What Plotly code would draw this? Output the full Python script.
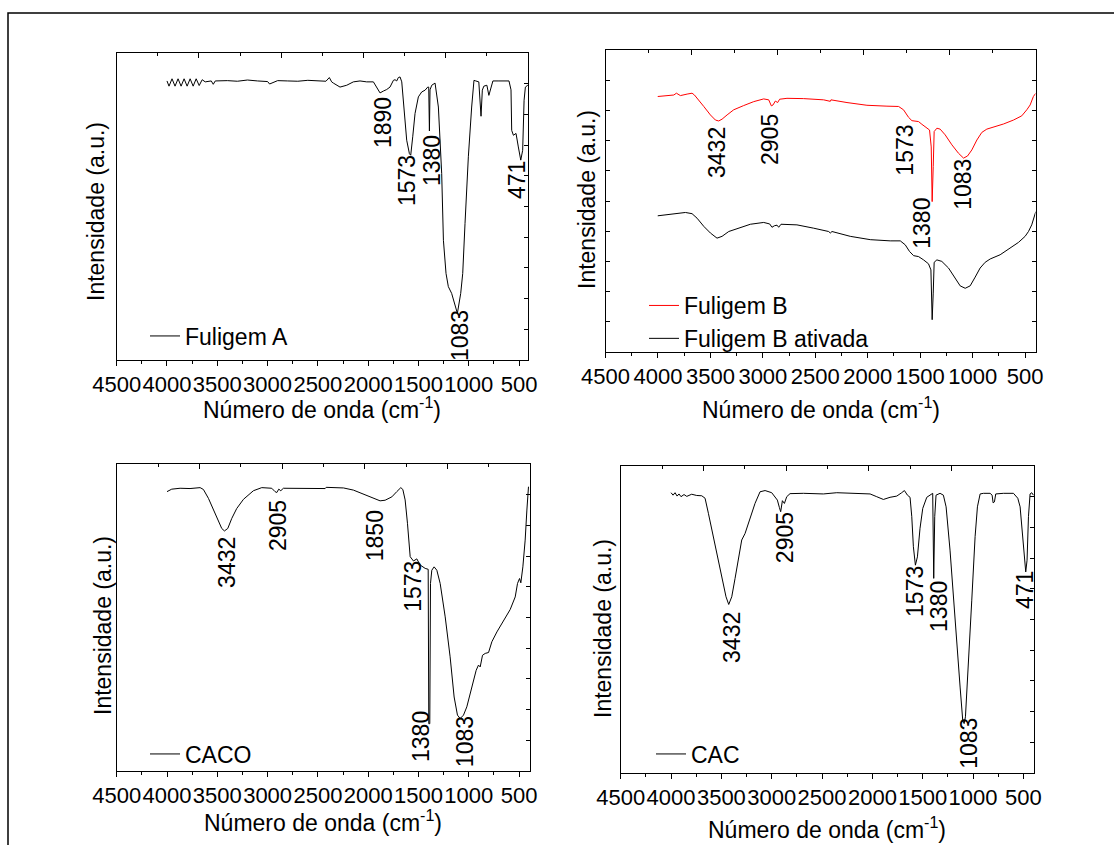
import plotly.graph_objects as go

W, H = 1114, 845
FONT = "Liberation Sans, Arial, sans-serif"
FS = 23
FS_TICK = 22

# ---------------- data (wavenumber cm-1, intensity a.u.) ----------------
wn_A = [4000, 3980, 3950, 3920, 3890, 3860, 3830, 3800, 3770, 3740, 3710, 3680, 3650, 3620, 3560, 3540, 3520,
        3400, 3300, 3200, 3100, 3000, 2980, 2900, 2800, 2700, 2600, 2500, 2420, 2386, 2363, 2346, 2280, 2213,
        2147, 2081, 2015, 1948, 1898, 1882, 1849, 1816, 1783, 1749, 1733, 1716, 1700, 1683, 1666, 1643, 1617,
        1590, 1577, 1557, 1534, 1501, 1468, 1434, 1408, 1398, 1391, 1385, 1368, 1335, 1302, 1269, 1252, 1226,
        1203, 1170, 1146, 1113, 1080, 1060, 1037, 1004, 971, 948, 930, 900, 878, 865, 850, 820, 800, 780, 760,
        700, 650, 600, 580, 573, 556, 530, 507, 483, 464, 450, 437, 414, 397]
int_A = [90.9, 89.2, 91.6, 89.2, 91.6, 89.2, 91.6, 89.2, 91.6, 89.2, 91.6, 89.4, 91.3, 90.6, 90.9, 89.8, 90.9,
         91.0, 90.8, 91.2, 90.9, 90.7, 89.9, 91.0, 90.9, 90.8, 91.1, 90.9, 90.8, 92.0, 90.6, 90.2, 88.9, 89.5,
         90.6, 90.9, 90.6, 90.6, 87.9, 87.0, 87.6, 88.1, 88.9, 91.1, 91.3, 90.9, 92.0, 92.2, 90.6, 82.4, 71.6,
         67.2, 66.7, 72.7, 80.3, 85.7, 87.3, 87.9, 88.9, 88.9, 74.6, 88.0, 89.5, 90.2, 82.4, 60.7, 39.0, 28.2,
         23.9, 21.7, 19.0, 15.2, 21.7, 28.2, 44.5, 66.2, 82.4, 91.1, 90.9, 90.6, 79.4, 87.9, 89.2, 89.5, 86.2,
         88.4, 90.9, 90.9, 90.9, 90.9, 88.0, 74.8, 73.2, 73.8, 69.4, 65.1, 68.3, 84.6, 88.9, 89.5, 88.9]

wn_B = [4002, 3913, 3849, 3824, 3786, 3722, 3675, 3652, 3611, 3563, 3500, 3452, 3421, 3389, 3341, 3278, 3183,
        3087, 2992, 2944, 2919, 2903, 2881, 2859, 2840, 2770, 2611, 2421, 2357, 2351, 2198, 2008, 1817, 1706,
        1659, 1611, 1579, 1548, 1516, 1484, 1443, 1411, 1395, 1386, 1376, 1367, 1341, 1310, 1262, 1198, 1135,
        1087, 1049, 1008, 960, 913, 865, 802, 706, 611, 532, 484, 452, 421, 398]
int_B = [84.6, 84.8, 85.1, 85.7, 84.9, 85.4, 85.7, 85.1, 83.5, 81.3, 78.5, 76.8, 76.5, 77.1, 78.5, 80.2, 81.6,
         82.9, 83.8, 83.5, 81.5, 81.8, 83.1, 82.6, 83.7, 84.0, 83.9, 83.5, 83.0, 83.5, 82.6, 81.7, 81.4, 81.3,
         80.2, 77.7, 76.6, 76.5, 76.3, 75.4, 74.4, 73.5, 67.9, 49.8, 61.4, 73.0, 74.1, 73.8, 71.9, 68.6, 65.8,
         64.2, 64.9, 66.9, 70.2, 72.7, 73.8, 74.4, 75.5, 76.8, 78.2, 80.2, 81.8, 84.6, 85.7]

wn_Bat = [4002, 3913, 3817, 3738, 3675, 3627, 3563, 3500, 3437, 3389, 3325, 3246, 3119, 2992, 2935, 2913, 2890,
          2865, 2849, 2827, 2675, 2516, 2373, 2357, 2341, 2167, 1976, 1786, 1690, 1643, 1602, 1563, 1516, 1468,
          1421, 1398, 1386, 1376, 1367, 1341, 1294, 1230, 1167, 1119, 1071, 1024, 976, 929, 881, 833, 738, 643,
          563, 500, 468, 437, 414, 398]
int_Bat = [45.1, 45.4, 45.8, 46.2, 45.8, 44.3, 41.6, 39.4, 37.7, 38.3, 39.9, 40.9, 42.3, 42.9, 42.4, 41.3, 41.8,
           42.0, 41.3, 42.3, 42.1, 41.0, 39.9, 39.4, 39.9, 38.3, 37.2, 36.8, 36.8, 35.5, 33.3, 31.9, 31.6, 30.5,
           29.2, 27.2, 10.7, 19.5, 29.7, 30.5, 30.0, 27.8, 24.5, 21.9, 21.1, 21.9, 24.8, 27.8, 29.7, 30.8, 32.2,
           34.4, 36.3, 38.3, 39.9, 42.1, 44.9, 46.5]

wn_C = [4000, 3953, 3870, 3771, 3671, 3638, 3588, 3539, 3489, 3456, 3429, 3396, 3356, 3307, 3240, 3141, 3058,
        2959, 2926, 2909, 2889, 2869, 2843, 2544, 2428, 2418, 2246, 2147, 2047, 1948, 1882, 1832, 1765, 1716,
        1676, 1656, 1633, 1610, 1583, 1550, 1517, 1484, 1434, 1404, 1398, 1388, 1381, 1368, 1345, 1318, 1285,
        1235, 1186, 1146, 1113, 1086, 1053, 1020, 970, 927, 904, 887, 864, 837, 804, 771, 721, 655, 589, 539,
        516, 496, 483, 463, 440, 423, 407]
int_C = [91.0, 91.8, 92.1, 92.0, 92.3, 91.7, 88.8, 85.0, 81.2, 79.0, 78.2, 79.0, 82.3, 85.5, 88.5, 91.3, 92.3,
         92.1, 91.0, 90.7, 91.8, 91.3, 92.1, 92.2, 92.0, 92.4, 92.2, 91.5, 90.2, 88.8, 88.0, 88.2, 89.3, 91.0,
         92.3, 91.7, 88.3, 80.7, 69.8, 68.4, 69.1, 67.1, 66.0, 65.7, 15.4, 15.4, 61.1, 65.4, 66.5, 65.4, 61.1,
         50.2, 37.2, 24.1, 18.2, 17.1, 18.2, 20.9, 27.4, 32.8, 34.5, 33.9, 37.7, 38.3, 38.6, 42.1, 45.3, 48.9,
         52.6, 56.7, 61.1, 62.7, 61.3, 66.5, 75.2, 85.0, 92.6]

wn_D = [4000, 3980, 3960, 3940, 3921, 3901, 3871, 3844, 3795, 3745, 3695, 3662, 3629, 3579, 3530, 3487, 3454,
        3427, 3397, 3364, 3331, 3298, 3265, 3215, 3166, 3116, 3066, 3000, 2967, 2944, 2924, 2911, 2894, 2874,
        2851, 2818, 2685, 2487, 2354, 2189, 2023, 1957, 1891, 1825, 1758, 1709, 1682, 1652, 1626, 1609, 1593,
        1573, 1553, 1527, 1500, 1460, 1417, 1401, 1391, 1381, 1368, 1328, 1295, 1268, 1229, 1179, 1129, 1103,
        1089, 1076, 1046, 1013, 980, 957, 930, 897, 831, 811, 801, 788, 775, 699, 599, 573, 556, 533, 510, 490,
        477, 464, 450, 434, 417, 401]
int_D = [91.3, 90.5, 91.3, 90.2, 90.9, 90.0, 90.7, 90.1, 90.8, 90.4, 90.3, 89.5, 84.6, 77.0, 69.3, 62.3, 57.4,
         54.9, 57.4, 63.4, 70.4, 75.9, 78.0, 82.9, 87.8, 91.6, 92.0, 91.3, 90.0, 88.9, 86.5, 85.1, 88.7, 87.8,
         90.0, 91.0, 91.1, 90.9, 91.3, 91.0, 90.9, 90.0, 89.1, 89.8, 90.2, 91.3, 92.0, 90.5, 89.8, 83.5, 73.7,
         67.7, 70.4, 79.7, 86.2, 89.8, 90.9, 91.1, 63.4, 83.5, 90.5, 91.1, 90.5, 86.7, 72.6, 48.7, 28.0, 17.2,
         16.1, 18.3, 34.6, 56.3, 77.0, 86.7, 90.9, 91.1, 91.1, 90.5, 88.0, 88.3, 90.9, 91.1, 91.1, 90.0, 89.5,
         86.7, 77.0, 68.3, 65.5, 69.3, 83.5, 90.9, 91.3, 90.5]

# peak labels: (text, label x in cm-1, label y in a.u.)
peaks_A = [("1890", 1853, 77.5), ("1573", 1614, 58.6), ("1380", 1366, 65.1), ("1083", 1088, 8.1), ("471", 521, 58.6)]
peaks_B = [("3432", 3438, 66.2), ("2905", 2933, 70.5), ("1573", 1648, 66.9), ("1083", 1095, 55.6), ("1380", 1486, 42.7)]
peaks_C = [("3432", 3404, 68.1), ("2905", 2897, 80.1), ("1850", 1932, 76.5), ("1573", 1555, 60.3),
           ("1380", 1475, 11.1), ("1083", 1038, 9.4)]
peaks_D = [("3432", 3395, 44.3), ("2905", 2868, 76.5), ("1573", 1577, 59.3), ("1380", 1339, 54.4),
           ("1083", 1041, 9.8), ("471", 485, 59.6)]

x_title = "Número de onda (cm<sup>-1</sup>)"
y_title = "Intensidade (a.u.)"

# ---------------- layout helpers ----------------
def px_x(p):
    return p / W

def px_y(p):
    return 1 - p / H

# panel boxes in pixels: (left, right, top, bottom, x-range right end)
panels = [
    (116.7, 528.0, 53.0, 360.0, 411),
    (605.5, 1035.5, 50.0, 352.0, 401),
    (116.7, 530.0, 464.0, 771.0, 392),
    (620.7, 1034.0, 466.0, 773.0, 395),
]

fig = go.Figure()

series = [
    (wn_A, int_A, "Fuligem A", "black", 1, "legend"),
    (wn_B, int_B, "Fuligem B", "red", 2, "legend2"),
    (wn_Bat, int_Bat, "Fuligem B ativada", "black", 2, "legend2"),
    (wn_C, int_C, "CACO", "black", 3, "legend3"),
    (wn_D, int_D, "CAC", "black", 4, "legend4"),
]
for wn, val, name, col, k, lg in series:
    sfx = "" if k == 1 else str(k)
    fig.add_trace(go.Scatter(x=wn, y=val, mode="lines", name=name,
                             line=dict(color=col, width=1),
                             xaxis="x" + sfx, yaxis="y" + sfx, legend=lg))

tickfont = dict(family=FONT, size=FS_TICK, color="black")
layout = dict(width=W, height=H, margin=dict(l=0, r=0, t=0, b=0, pad=0, autoexpand=False),
              template="none",
              paper_bgcolor="white", plot_bgcolor="white",
              font=dict(family=FONT, size=FS, color="black"), showlegend=True)

annotations = []
for i, (l, r, t, b, xr) in enumerate(panels):
    k = i + 1
    sfx = "" if k == 1 else str(k)
    layout["xaxis" + sfx] = dict(
        domain=[px_x(l), px_x(r)], range=[4500, xr], anchor="y" + sfx, automargin=False,
        showline=True, linecolor="black", linewidth=1, mirror=False,
        ticks="outside", ticklen=5, tickwidth=1, tickcolor="black",
        tick0=0, dtick=500, tickangle=0, tickfont=tickfont, showgrid=False, zeroline=False,
        minor=dict(dtick=250, ticks="outside", ticklen=3, tickcolor="black", showgrid=False),
    )
    left_ticks = "inside" if k == 2 else ""
    layout["yaxis" + sfx] = dict(
        domain=[px_y(b), px_y(t)], range=[0, 100], anchor="x" + sfx, automargin=False,
        showline=True, linecolor="black", linewidth=1, showticklabels=False,
        ticks=left_ticks, ticklen=4, tickcolor="black", dtick=10,
        showgrid=False, zeroline=False,
    )
    # top and right frame axes with their own inner ticks
    tk = 4 + k
    layout["xaxis%d" % tk] = dict(
        overlaying="x" + sfx, anchor="y" + sfx, side="top", range=[0, 10], automargin=False,
        showline=True, linecolor="black", linewidth=1, showticklabels=False,
        ticks="inside", ticklen=5, tickcolor="black", dtick=2,
        minor=dict(dtick=1, ticks="inside", ticklen=3, tickcolor="black", showgrid=False),
        showgrid=False, zeroline=False,
    )
    layout["yaxis%d" % tk] = dict(
        overlaying="y" + sfx, anchor="x" + sfx, side="right", range=[0, 10], automargin=False,
        showline=True, linecolor="black", linewidth=1, showticklabels=False,
        ticks="inside", ticklen=4, tickcolor="black", dtick=1,
        showgrid=False, zeroline=False,
    )
    fig.add_trace(go.Scatter(x=[None], y=[None], xaxis="x%d" % tk, yaxis="y" + sfx,
                             showlegend=False, hoverinfo="skip"))
    fig.add_trace(go.Scatter(x=[None], y=[None], xaxis="x" + sfx, yaxis="y%d" % tk,
                             showlegend=False, hoverinfo="skip"))

# axis titles
xt_y = [408, 408, 821, 828]
yt_pos = [(96, 212), (587, 200), (103, 626), (603, 629)]
for i, (l, r, t, b, xr) in enumerate(panels):
    annotations.append(dict(text=x_title, xref="paper", yref="paper",
                            x=px_x((l + r) / 2), y=px_y(xt_y[i]), showarrow=False,
                            xanchor="center", yanchor="middle", font=dict(size=FS)))
    annotations.append(dict(text=y_title, xref="paper", yref="paper", textangle=-90,
                            x=px_x(yt_pos[i][0]), y=px_y(yt_pos[i][1]), showarrow=False,
                            xanchor="center", yanchor="middle", font=dict(size=FS)))

# peak labels
for k, peaks in enumerate([peaks_A, peaks_B, peaks_C, peaks_D], start=1):
    sfx = "" if k == 1 else str(k)
    for txt, xx, yy in peaks:
        annotations.append(dict(text=txt, x=xx, y=yy, xref="x" + sfx, yref="y" + sfx,
                                textangle=-90, showarrow=False, font=dict(size=FS)))

layout["annotations"] = annotations

leg_common = dict(bgcolor="rgba(0,0,0,0)", borderwidth=0, font=dict(family=FONT, size=FS, color="black"),
                  xanchor="left", yanchor="middle", tracegroupgap=0)
layout["legend"] = dict(x=px_x(145), y=px_y(336), **leg_common)
layout["legend2"] = dict(x=px_x(644), y=px_y(322), **leg_common)
layout["legend3"] = dict(x=px_x(145), y=px_y(754), **leg_common)
layout["legend4"] = dict(x=px_x(651), y=px_y(754), **leg_common)

layout["shapes"] = [dict(type="rect", xref="paper", yref="paper",
                         x0=px_x(8), x1=1.02, y0=-0.02, y1=px_y(13),
                         line=dict(color="black", width=1.5))]

fig.update_layout(**layout)
fig.write_html("out.html")
